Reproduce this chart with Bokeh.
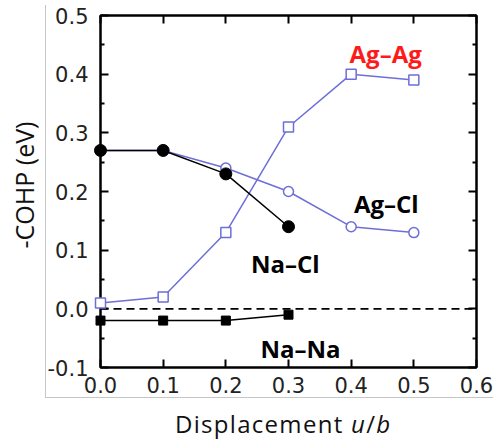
from bokeh.plotting import figure
from bokeh.models import (Label, Span, LinearAxis, Range1d, FixedTicker,
                          CustomJSTickFormatter, Div, InlineStyleSheet)
from bokeh.layouts import column
from bokeh.embed import file_html
from bokeh.resources import INLINE

# ---- data ----
displacement = [0.0, 0.1, 0.2, 0.3, 0.4, 0.5]
ag_ag = [0.01, 0.02, 0.13, 0.31, 0.40, 0.39]
ag_cl = [0.27, 0.27, 0.24, 0.20, 0.14, 0.13]
na_displacement = [0.0, 0.1, 0.2, 0.3]
na_cl = [0.27, 0.27, 0.23, 0.14]
na_na = [-0.02, -0.02, -0.02, -0.01]
x_ticks = [0.0, 0.1, 0.2, 0.3, 0.4, 0.5, 0.6]
y_ticks = [-0.1, 0.0, 0.1, 0.2, 0.3, 0.4, 0.5]
y_minor = [-0.05, 0.05, 0.15, 0.25, 0.35, 0.45]

BLUE = "#6e6ed8"
TICK_FONT = "DejaVu Sans"
LABEL_FONT = "Open Sans"

W = 493
FIG_H = 405
DIV_H = 35

p = figure(width=W, height=FIG_H, output_backend="svg", toolbar_location=None,
           x_range=Range1d(0, 0.6), y_range=Range1d(-0.1, 0.5),
           min_border_left=100, min_border_right=17, min_border_top=15,
           min_border_bottom=FIG_H - 367,
           x_axis_location=None, y_axis_location=None)
p.grid.visible = False
p.outline_line_color = "black"
p.outline_line_width = 2
p.background_fill_color = "white"
p.border_fill_color = "white"

def style_axis(ax, ticks, minor, labels=True, standoff=12):
    ax.ticker = FixedTicker(ticks=ticks, minor_ticks=minor)
    ax.major_tick_in = 8
    ax.major_tick_out = 0
    ax.minor_tick_in = 4
    ax.minor_tick_out = 0
    ax.major_tick_line_width = 2
    ax.minor_tick_line_width = 2
    ax.axis_line_width = 2
    ax.major_label_text_font = TICK_FONT
    ax.major_label_text_font_size = "21px"
    ax.major_label_text_color = "#222222"
    ax.major_label_standoff = standoff
    if labels:
        ax.formatter = CustomJSTickFormatter(code="return tick.toFixed(1);")
    else:
        ax.major_label_overrides = {t: "" for t in ticks}
        ax.major_label_standoff = 0

xb = LinearAxis(); style_axis(xb, x_ticks, [], standoff=9)
xt = LinearAxis(); style_axis(xt, x_ticks, [], labels=False)
yl = LinearAxis(); style_axis(yl, y_ticks, y_minor, standoff=12)
yr = LinearAxis(); style_axis(yr, y_ticks, y_minor, labels=False)

yl.axis_label = "\u00a0\u00a0-COHP (eV)"
yl.axis_label_text_font = LABEL_FONT
yl.axis_label_text_font_size = "25px"
yl.axis_label_text_font_style = "normal"
yl.axis_label_text_color = "#111111"
yl.axis_label_standoff = 4

p.add_layout(xb, "below")
p.add_layout(xt, "above")
p.add_layout(yl, "left")
p.add_layout(yr, "right")

# zero line
p.add_layout(Span(location=0, dimension="width", line_color="black",
                  line_width=1.6, line_dash="8 5"))

# series
p.line(displacement, ag_cl, line_color=BLUE, line_width=1.5)
s1 = p.scatter(displacement, ag_cl, marker="circle", size=10, fill_color="white",
               line_color=BLUE, line_width=1.5)
p.line(displacement, ag_ag, line_color=BLUE, line_width=1.5)
s2 = p.scatter(displacement, ag_ag, marker="square", size=10, fill_color="white",
               line_color=BLUE, line_width=1.5)
p.line(na_displacement, na_cl, line_color="black", line_width=1.5)
s3 = p.scatter(na_displacement, na_cl, marker="circle", size=12, fill_color="black",
               line_color="black")
p.line(na_displacement, na_na, line_color="black", line_width=1.5)
s4 = p.scatter(na_displacement, na_na, marker="square", size=9, fill_color="black",
               line_color="black")
for r in (s1, s2, s3, s4):
    r.level = "overlay"

def lab(x, y, text, color="black"):
    p.add_layout(Label(x=x, y=y, text=text, text_font=LABEL_FONT,
                       text_font_size="24px", text_font_style="bold",
                       text_color=color, text_align="center",
                       text_baseline="alphabetic"))

lab(0.455, 0.435, "Ag\u2013Ag", color="#ff1a1a")
lab(0.456, 0.180, "Ag\u2013Cl")
lab(0.295, 0.077, "Na\u2013Cl")
lab(0.319, -0.0676, "Na\u2013Na")

# light grey border of the original picture
p.stylesheets = [InlineStyleSheet(css="""
:host::after {
  content: ""; position: absolute; left: 45px; top: 5px; width: 448px; height: 393px;
  border-left: 1px solid #c6c6c6; border-bottom: 1px solid #c6c6c6;
  pointer-events: none; z-index: 10; box-sizing: border-box;
}
""")]

xlabel = Div(text="Displacement <i>u</i>/<i>b</i>", width=W, height=DIV_H,
             styles={"font-family": LABEL_FONT, "font-size": "24px", "color": "#111111",
                     "line-height": "28px", "padding-left": "175px", "padding-top": "5px",
                     "letter-spacing": "1.3px",
                     "box-sizing": "border-box", "margin": "0", "white-space": "nowrap"})

layout = column(p, xlabel, spacing=0)
open("out.html", "w").write(file_html(layout, INLINE))
